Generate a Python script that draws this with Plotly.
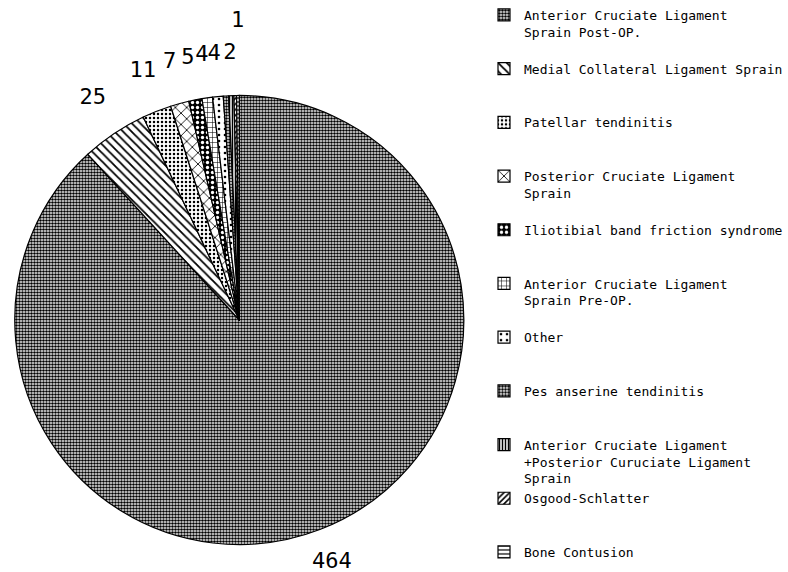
import numpy as np
import plotly.graph_objects as go

categories = [
    "Anterior Cruciate Ligament<br>Sprain Post-OP.",
    "Medial Collateral Ligament Sprain",
    "Patellar tendinitis",
    "Posterior Cruciate Ligament<br>Sprain",
    "Iliotibial band friction syndrome",
    "Anterior Cruciate Ligament<br>Sprain Pre-OP.",
    "Other",
    "Pes anserine tendinitis",
    "Anterior Cruciate Ligament<br>+Posterior Curuciate Ligament<br>Sprain",
    "Osgood-Schlatter",
    "Bone Contusion",
]
values = [464, 25, 11, 7, 5, 4, 4, 2, 2, 1, 1]
value_labels = ["464", "25", "11", "7", "5", "4", "4", "", "2", "", "1"]

# styling (not data)
shapes = [".", "\\", ".", "x", ".", "+", ".", ".", "|", "/", "-"]
fg = ["black", "black", "black", "black", "white", "black", "black", "black", "black", "black", "black"]
bg = ["white", "white", "white", "white", "black", "white", "white", "white", "white", "white", "white"]
sizes = [3, 6, 4, 8, 5, 5, 6, 3, 3, 4, 4]
solid = [0.6, 0.3, 0.3, 0.2, 0.35, 0.2, 0.15, 0.55, 0.5, 0.4, 0.3]
label_r = np.full(len(values), 1.17)
label_r[0] = 1.14
label_r[-1] = 1.31

# layout geometry in pixels
W, H = 788, 572
CX, CY, R = 243, 320, 228          # pie centre (from top-left) and radius
dom_x = [(CX - R) / W, (CX + R) / W]
dom_y = [1 - (CY + R) / H, 1 - (CY - R) / H]
ax_px_x = [0, 600]                  # area of the hidden label axes
ax_range_x = [(ax_px_x[0] - CX) / R, (ax_px_x[1] - CX) / R]
ax_range_y = [-(H - CY) / R, CY / R]


def pad(lbl, n=3):
    k = lbl.count("<br>") + 1
    return lbl + "<br> " * (n - k)


legend_labels = [pad(c) for c in categories[:-1]] + [categories[-1]]

fig = go.Figure()
fig.add_trace(go.Pie(
    labels=legend_labels,
    values=values,
    textinfo="none",
    sort=False,
    direction="clockwise",
    rotation=0,
    marker=dict(
        colors=bg,
        line=dict(color="black", width=1.2),
        pattern=dict(shape=shapes, fgcolor=fg, bgcolor=bg, size=sizes,
                     solidity=solid, fillmode="replace"),
    ),
    domain=dict(x=dom_x, y=dom_y),
    hoverinfo="label+value",
))

# value labels around the pie, on hidden cartesian axes with the pie's scale
vals = np.array(values, dtype=float)
mid = (np.cumsum(vals) - vals / 2) / vals.sum() * 2 * np.pi  # clockwise from 12 o'clock
fig.add_trace(go.Scatter(
    x=label_r * np.sin(mid),
    y=label_r * np.cos(mid),
    mode="text",
    text=value_labels,
    textposition="middle center",
    textfont=dict(family="DejaVu Sans Mono", size=22, color="black"),
    cliponaxis=False,
    showlegend=False,
    hoverinfo="skip",
))

fig.update_layout(
    width=W, height=H,
    margin=dict(l=0, r=0, t=0, b=0),
    paper_bgcolor="white",
    plot_bgcolor="rgba(0,0,0,0)",
    showlegend=True,
    xaxis=dict(domain=[ax_px_x[0] / W, ax_px_x[1] / W], range=ax_range_x,
               visible=False, fixedrange=True),
    yaxis=dict(domain=[0, 1], range=ax_range_y, visible=False, fixedrange=True),
    legend=dict(
        x=0.624, y=1.0, xanchor="left", yanchor="top",
        font=dict(family="DejaVu Sans Mono", size=13, color="black"),
        valign="top",
        tracegroupgap=0,
        bgcolor="rgba(0,0,0,0)",
    ),
)

fig.write_html("out.html")
